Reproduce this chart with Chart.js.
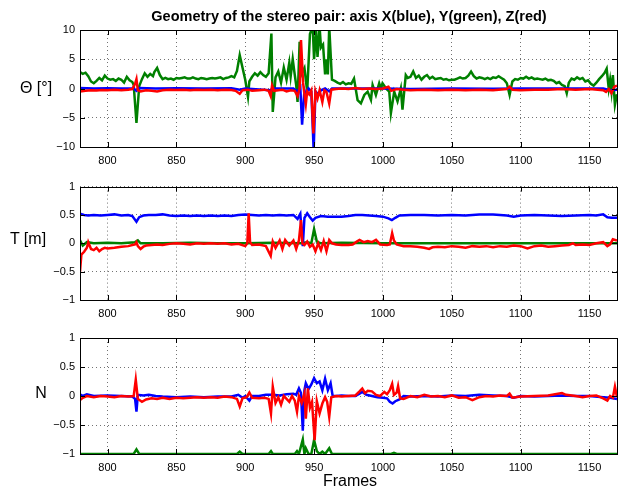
<!DOCTYPE html>
<html>
<head>
<meta charset="utf-8">
<script src="https://cdn.jsdelivr.net/npm/chart.js@4"></script>
<style>
    body { margin: 0; background: #fff; width: 623px; height: 489px; overflow: hidden; position: relative; font-family: 'Liberation Sans', Arial, sans-serif; }
    canvas { position: absolute; left: 0; }
    .lbl { position: absolute; color: #000; white-space: nowrap; transform: translate(-50%, -50%); }
</style>
</head>
<body>
<canvas id="c1" width="623" height="175" style="top:0"></canvas>
<canvas id="c2" width="623" height="150" style="top:175px"></canvas>
<canvas id="c3" width="623" height="164" style="top:325px"></canvas>
<div class="lbl" style="left:349px;top:16px;font-size:14.5px;font-weight:bold">Geometry of the stereo pair: axis X(blue), Y(green), Z(red)</div>
<div class="lbl" style="left:36px;top:88px;font-size:16px">Θ [°]</div>
<div class="lbl" style="left:28px;top:239px;font-size:16px">T [m]</div>
<div class="lbl" style="left:41px;top:393px;font-size:16px">N</div>
<div class="lbl" style="left:350px;top:481px;font-size:16px">Frames</div>
<script>
// Tick values
const xTicks = [800, 850, 900, 950, 1000, 1050, 1100, 1150];
const thetaTicks = [-10, -5, 0, 5, 10];
const unitTicks = [-1, -0.5, 0, 0.5, 1];

// Rotation angles [deg] as [frame, value]
const thetaX = [[780,0.1],[790,0.0],[800,0.05],[810,0.0],[819,0.0],[821,-0.4],[823,0.1],[835,0.0],[850,0.05],[870,0.0],[890,0.05],
    [896,-0.2],[900,0.0],[918,-0.3],[920,0.0],[935,0.0],[938,-0.5],[940,0.2],[941.3,-6.2],[943,-0.3],[944,-1.0],[946,0.0],[948,-0.5],
    [949.7,-10.6],[951,-0.5],[953,-1.0],[955,-0.3],[958,0.0],[961,-0.5],[963,0.0],[980,0.0],[1000,0.0],[1020,-0.1],[1050,0.0],
    [1080,-0.05],[1100,0.0],[1130,0.0],[1160,0.0],[1165,-0.3],[1170,-0.2]];
const thetaY = [[780,2.8],[782,2.5],[784,2.7],[786,2.1],[788,1.2],[790,0.9],[792,1.3],[794,1.8],[796,1.4],[798,2.2],[800,1.7],[802,1.5],
    [804,1.6],[806,1.3],[808,1.7],[810,1.5],[812,1.0],[814,2.0],[816,1.4],[818,1.1],[819,0.6],[821,-5.9],[823,0.4],[825,1.6],[827,2.6],
    [829,2.0],[831,2.5],[833,2.1],[834,2.8],[836,3.5],[838,2.3],[840,1.6],[842,1.8],[844,1.6],[846,1.7],[848,1.5],[850,1.8],[852,1.7],
    [854,1.8],[856,1.9],[858,1.7],[860,1.7],[862,1.9],[864,1.7],[866,1.6],[868,1.8],[870,1.7],[872,1.6],[874,1.7],[876,1.8],[878,1.7],
    [880,1.8],[882,1.9],[884,1.6],[886,1.8],[888,1.9],[890,2.1],[892,1.9],[894,3.0],[896,5.7],[898,3.6],[900,1.5],[902,-1.4],[903,1.2],
    [905,2.0],[907,2.6],[909,2.2],[911,2.8],[913,2.3],[915,2.0],[917,2.6],[919,9.4],[920,-4.0],[922,1.9],[924,2.9],[926,1.0],[928,3.6],
    [930,1.5],[932,4.4],[933,2.1],[934.5,5.0],[936,2.3],[937,0.6],[938,-2.3],[939.5,8.0],[941,2.5],[943,3.5],[945,-0.5],[947,9.3],
    [949,10.6],[950,5.0],[951.5,9.8],[952.5,5.4],[954,10.6],[955,7.0],[956.5,7.5],[958,2.4],[959,5.0],[960,2.4],[961,10.6],[963,1.5],
    [965,1.3],[967,1.0],[969,0.8],[971,1.1],[973,0.7],[975,0.9],[977,0.8],[979,1.7],[981.6,-2.0],[984,-2.55],[986.5,-1.1],[988.9,-0.54],
    [991.3,-1.96],[992.5,0.6],[994.9,-1.1],[997.3,0.88],[998.5,0.03],[999.7,0.88],[1002.2,0.03],[1004.6,-0.54],[1005.8,-4.2],
    [1008.2,-0.54],[1010.6,-2.2],[1013,0.03],[1014.2,-3.6],[1016.6,2.3],[1018,1.8],[1020,2.0],[1022,2.9],[1024,1.8],[1026,2.2],[1028,1.5],
    [1030,2.0],[1032,2.3],[1034,1.7],[1036,2.0],[1038,1.6],[1040,1.7],[1042,1.8],[1044,1.5],[1046,1.6],[1048,1.4],[1050,1.5],[1052,1.5],
    [1054,1.7],[1056,1.9],[1058,1.7],[1060,1.8],[1062,2.2],[1064,2.9],[1066,2.1],[1068,1.7],[1070,1.9],[1072,1.8],[1074,1.6],[1076,1.8],
    [1078,1.6],[1080,1.9],[1082,1.8],[1084,2.1],[1086,1.8],[1088,1.5],[1090,0.9],[1092,-1.1],[1094,1.2],[1096,1.6],[1098,1.5],[1100,1.8],
    [1102,1.7],[1104,2.0],[1106,1.7],[1108,1.9],[1110,1.6],[1112,1.7],[1114,1.6],[1116,1.5],[1118,1.7],[1120,1.4],[1122,1.5],[1124,1.3],
    [1126,0.9],[1128,1.1],[1130,0.6],[1132,0.4],[1133.5,-0.8],[1135,1.0],[1137,1.7],[1139,1.5],[1141,1.9],[1143,1.6],[1145,1.8],
    [1147,1.2],[1149,1.4],[1151,0.8],[1153,0.5],[1155,1.0],[1157,1.6],[1159,2.1],[1161,2.7],[1162.5,3.4],[1164,0.0],[1165,1.5],
    [1166,-0.5],[1167,2.3],[1168.5,-2.8],[1170,-1.0]];
const thetaZ = [[780,-0.5],[784,-0.4],[788,-0.3],[792,-0.35],[796,-0.25],[800,-0.3],[805,-0.2],[810,-0.3],[815,-0.2],[818,-0.1],
    [820,0.8],[821,1.6],[822,-0.3],[824,-0.5],[828,-0.3],[832,-0.4],[836,-0.5],[840,-0.3],[845,-0.2],[850,-0.25],[855,-0.2],[860,-0.3],
    [865,-0.2],[870,-0.25],[875,-0.2],[880,-0.3],[885,-0.2],[890,-0.25],[893,-0.4],[896,-0.9],[898,-0.3],[902,-0.2],[905,-0.4],
    [910,-0.3],[914,-0.2],[917,-0.4],[918.5,-1.3],[919.5,0.5],[921,-0.4],[924,-0.3],[927,-0.2],[930,-0.5],[933,-0.3],[936,-0.4],
    [938,-1.3],[939.5,0.0],[940.5,8.3],[942,1.0],[943,-1.0],[944,-2.7],[945,-0.5],[946.5,-1.0],[948,-0.3],[949.5,-7.7],[951,-0.5],
    [952.5,-1.7],[954,-0.3],[956,-2.3],[957.5,-0.3],[959,-0.6],[961,-2.6],[962.5,-0.2],[966,-0.1],[970,0.0],[975,-0.1],[980,0.1],
    [985,-0.1],[990,0.0],[995,-0.1],[1000,0.0],[1004,0.3],[1006,-0.4],[1010,-0.1],[1015,-0.2],[1020,-0.3],[1030,-0.2],[1040,-0.3],
    [1050,-0.2],[1060,-0.3],[1070,-0.2],[1080,-0.3],[1090,-0.1],[1092,0.3],[1094,-0.2],[1100,-0.3],[1110,-0.2],[1120,-0.2],[1130,-0.1],
    [1140,-0.2],[1150,-0.1],[1160,-0.3],[1162,-0.6],[1164,-0.1],[1166,-0.8],[1168,0.3],[1170,0.5]];

// Translation [m]
const transX = [[780,0.52],[783,0.5],[786,0.49],[790,0.5],[795,0.49],[800,0.5],[805,0.51],[810,0.49],[815,0.5],[818,0.48],[821,0.38],
    [823,0.46],[826,0.49],[830,0.5],[835,0.5],[840,0.51],[845,0.49],[850,0.48],[855,0.49],[860,0.48],[865,0.49],[870,0.48],[875,0.49],
    [880,0.48],[885,0.49],[890,0.48],[895,0.5],[900,0.51],[905,0.5],[910,0.49],[915,0.5],[920,0.49],[925,0.5],[930,0.49],[935,0.5],
    [938,0.43],[940,0.52],[941.8,-0.05],[943,0.45],[945,0.53],[947,0.46],[949,0.4],[951,0.45],[955,0.48],[960,0.47],[965,0.47],
    [970,0.47],[975,0.48],[980,0.5],[985,0.5],[990,0.49],[995,0.48],[1000,0.47],[1004,0.44],[1006.5,0.41],[1009,0.45],[1012,0.49],
    [1020,0.5],[1030,0.5],[1040,0.49],[1050,0.5],[1060,0.49],[1070,0.51],[1080,0.51],[1090,0.49],[1095,0.47],[1100,0.49],[1110,0.5],
    [1120,0.49],[1130,0.48],[1140,0.49],[1150,0.5],[1155,0.49],[1160,0.51],[1163,0.46],[1166,0.45],[1170,0.45]];
const transY = [[780,0.05],[782,-0.04],[785,0.02],[790,0.0],[800,0.01],[810,0.0],[820,0.02],[822,0.05],[824,0.0],[840,0.0],[860,0.01],
    [880,0.0],[900,0.0],[920,0.01],[940,0.0],[945,0.02],[948,0.0],[950,0.25],[952,0.03],[955,0.0],[970,0.01],[1000,0.0],[1050,0.0],
    [1100,0.0],[1150,0.0],[1170,0.0]];
const transZ = [[780,-0.5],[781,-0.2],[783,-0.15],[785,-0.08],[786,0.02],[788,-0.1],[790,-0.12],[792,-0.08],[794,-0.14],[796,-0.1],
    [798,-0.08],[800,-0.09],[805,-0.08],[810,-0.06],[815,-0.05],[818,-0.03],[820,-0.02],[821,0.02],[822,-0.05],[824,-0.1],[826,-0.06],
    [828,-0.04],[832,-0.03],[836,-0.02],[840,-0.03],[845,-0.01],[850,0.0],[855,-0.01],[860,-0.02],[865,0.0],[870,-0.01],[875,0.0],
    [880,-0.01],[885,0.0],[890,-0.02],[895,-0.01],[900,-0.05],[901.5,0.0],[902.5,0.53],[903.5,0.02],[905,-0.03],[910,-0.02],[915,-0.05],
    [918.5,-0.22],[920,0.03],[922,-0.08],[925,0.05],[927,-0.1],[929,0.06],[932,-0.04],[935,0.05],[937,-0.1],[939,0.05],[940.5,0.41],
    [941.5,0.0],[943,-0.03],[945,0.03],[947,-0.06],[949,-0.02],[951,-0.14],[953,0.0],[955,-0.12],[957,0.04],[959,-0.14],[961,0.06],
    [963,0.0],[966,-0.02],[970,-0.03],[975,-0.03],[978,-0.02],[981,0.03],[983,0.06],[986,0.02],[989,0.04],[992,0.02],[995,0.06],
    [998,-0.02],[1003,-0.03],[1005,-0.02],[1006.7,0.18],[1008,0.05],[1010,-0.02],[1015,-0.05],[1020,-0.05],[1025,-0.06],[1030,-0.08],
    [1033.5,-0.1],[1036,-0.07],[1040,-0.06],[1045,-0.07],[1050,-0.05],[1055,-0.06],[1060,-0.08],[1065,-0.05],[1070,-0.06],[1075,-0.05],
    [1080,-0.07],[1085,-0.05],[1090,-0.06],[1095,-0.04],[1100,-0.05],[1105,-0.09],[1110,-0.05],[1115,-0.04],[1120,-0.06],[1125,-0.05],
    [1130,-0.04],[1135,-0.03],[1138,0.0],[1140,-0.03],[1145,-0.02],[1150,-0.03],[1155,0.0],[1160,0.02],[1163,-0.05],[1165,-0.02],
    [1167,0.07],[1170,0.05]];

// Normal vector components
const normX = [[780,0.03],[782,0.0],[785,0.03],[790,0.0],[800,0.01],[810,0.0],[818,-0.01],[820,-0.05],[821,-0.27],[822,0.02],[826,0.01],
    [830,0.02],[835,0.0],[840,-0.01],[850,-0.02],[860,-0.01],[870,-0.02],[880,-0.01],[890,-0.01],[895,0.02],[898,-0.03],[900,0.0],
    [903,-0.08],[905,0.0],[910,0.0],[915,0.02],[920,0.02],[925,0.01],[930,0.03],[935,0.04],[937,0.02],[939,0.13],[940.5,0.05],
    [941.8,-0.6],[943,0.1],[944,0.22],[946,0.12],[948,0.2],[950,0.31],[952,0.22],[954,0.25],[956,0.1],[958,0.3],[960,0.1],[962,0.22],
    [963.5,0.0],[966,0.0],[970,0.01],[975,0.0],[980,0.0],[983,0.04],[985,0.07],[988,0.02],[992,0.0],[996,-0.02],[1000,-0.03],
    [1003,-0.04],[1005,-0.1],[1007,-0.13],[1009,-0.09],[1012,-0.06],[1015,0.0],[1020,-0.01],[1030,0.0],[1040,-0.01],[1050,0.01],
    [1060,0.0],[1070,0.02],[1080,0.01],[1090,0.0],[1095,-0.03],[1100,0.0],[1110,-0.01],[1120,0.0],[1130,0.01],[1140,0.0],[1150,0.0],
    [1160,-0.02],[1165,-0.03],[1170,-0.05]];
const normY = [[780,-1],[819,-1],[821,-0.92],[823,-1],[894,-1],[896,-0.96],[898,-1],[917,-1],[918.7,-0.95],[920,-1],[936,-1],
    [937.6,-0.95],[939,-1],[941.8,-0.75],[943,-1],[944,-0.9],[946,-1],[948,-1],[950,-0.76],[952,-0.95],[954,-1],[956,-0.96],[958,-1],
    [961,-0.9],[963,-1],[1006,-1],[1008,-0.98],[1010,-1],[1170,-1]];
const normZ = [[780,-0.07],[782,-0.03],[785,0.0],[790,-0.02],[795,0.0],[800,-0.01],[805,-0.02],[810,0.0],[815,-0.01],[819,0.0],
    [820.5,0.28],[822,-0.05],[825,-0.1],[828,-0.06],[832,-0.04],[836,-0.05],[840,-0.03],[845,-0.05],[850,-0.03],[855,-0.04],[860,-0.03],
    [865,-0.02],[870,-0.03],[875,-0.02],[880,-0.03],[885,-0.01],[890,-0.02],[894,-0.05],[896,-0.18],[898,-0.04],[901,-0.02],[903,0.06],
    [905,-0.03],[910,-0.04],[914,-0.03],[917,-0.05],[918.7,-0.3],[920,0.16],[922,-0.12],[924,-0.02],[926,-0.15],[928,0.0],[930,-0.05],
    [932,-0.1],[934,0.0],[936,-0.08],[937.6,-0.27],[939,0.0],[941,-0.12],[943,0.05],[944,-0.39],[945.5,0.13],[947,-0.2],[948.5,-0.1],
    [950.4,-0.76],[952,-0.09],[954,-0.3],[956,-0.13],[958,-0.02],[959.5,-0.1],[961,-0.36],[962.5,-0.02],[966,0.0],[970,-0.01],[975,0.0],
    [980,0.01],[983,0.08],[985,0.13],[987,0.05],[989,0.09],[992,0.08],[995,0.02],[998,0.0],[1001,0.07],[1003,0.03],[1005,0.1],
    [1006.7,0.21],[1008,0.02],[1010,0.06],[1011,0.17],[1012.5,-0.04],[1015,-0.05],[1020,0.0],[1025,-0.02],[1030,0.02],[1035,-0.01],
    [1040,0.0],[1045,-0.02],[1050,0.01],[1055,-0.03],[1060,-0.02],[1065,-0.07],[1070,-0.02],[1075,0.0],[1080,-0.01],[1085,0.01],
    [1090,0.0],[1092,0.04],[1094,-0.03],[1100,-0.01],[1110,0.0],[1120,0.01],[1125,0.03],[1130,0.05],[1133,0.02],[1140,0.0],[1145,-0.02],
    [1150,0.0],[1155,0.01],[1160,-0.04],[1163,-0.08],[1165,0.0],[1167,-0.03],[1168.5,0.16],[1170,-0.02]];

const FONT = "'Liberation Sans', Arial, sans-serif";
const toXY = arr => arr.map(p => ({ x: p[0], y: p[1] }));
const fmt = v => String(v).replace('-', '\u2212');

// Box around plot + inward tick marks (matlab style)
const boxPlugin = {
    id: 'box',
    afterDraw(chart) {
        const { ctx, chartArea: a, scales } = chart;
        ctx.save();
        ctx.strokeStyle = '#000';
        ctx.lineWidth = 1;
        ctx.beginPath();
        xTicks.forEach(v => {
            const px = Math.round(scales.x.getPixelForValue(v)) + 0.5;
            ctx.moveTo(px, a.bottom); ctx.lineTo(px, a.bottom - 5);
            ctx.moveTo(px, a.top); ctx.lineTo(px, a.top + 5);
        });
        scales.y.ticks.forEach(t => {
            const py = Math.round(scales.y.getPixelForValue(t.value)) + 0.5;
            ctx.moveTo(a.left, py); ctx.lineTo(a.left + 5, py);
            ctx.moveTo(a.right, py); ctx.lineTo(a.right - 5, py);
        });
        ctx.stroke();
        ctx.strokeRect(Math.round(a.left) + 0.5, Math.round(a.top) + 0.5, Math.round(a.right - a.left), Math.round(a.bottom - a.top));
        ctx.restore();
    }
};

function makePanel(id, series, yTicks, pad, xHeight) {
    const colors = ['#0000ff', '#008000', '#ff0000'];
    const order = [1, 2, 0];
    new Chart(document.getElementById(id), {
        type: 'line',
        data: {
            datasets: series.map((s, i) => ({
                data: toXY(s),
                borderColor: colors[i],
                borderWidth: 2.5,
                pointRadius: 0,
                tension: 0,
                order: order[i]
            }))
        },
        options: {
            responsive: false,
            animation: false,
            devicePixelRatio: 1,
            layout: { padding: { top: pad, left: 0, right: 6, bottom: 0 } },
            plugins: { legend: { display: false }, tooltip: { enabled: false } },
            scales: {
                x: {
                    type: 'linear',
                    min: 780,
                    max: 1170,
                    afterBuildTicks: s => { s.ticks = xTicks.map(v => ({ value: v })); },
                    afterFit: s => { s.height = xHeight; },
                    grid: { color: 'rgba(0,0,0,0.55)', lineWidth: 1, drawTicks: false },
                    border: { display: false, dash: [1, 3] },
                    ticks: { padding: 7, color: '#000', font: { family: FONT, size: 11 }, maxRotation: 0, callback: v => fmt(v) }
                },
                y: {
                    min: yTicks[0],
                    max: yTicks[yTicks.length - 1],
                    afterBuildTicks: s => { s.ticks = yTicks.map(v => ({ value: v })); },
                    afterFit: s => { s.width = 80; },
                    grid: { color: 'rgba(0,0,0,0.55)', lineWidth: 1, drawTicks: false },
                    border: { display: false, dash: [1, 3] },
                    ticks: { padding: 5, color: '#000', font: { family: FONT, size: 11 }, callback: v => fmt(v) }
                }
            }
        },
        plugins: [boxPlugin]
    });
}

makePanel('c1', [thetaX, thetaY, thetaZ], thetaTicks, 30, 28);
makePanel('c2', [transX, transY, transZ], unitTicks, 8, 25);
makePanel('c3', [normX, normY, normZ], unitTicks, 13, 35);
</script>
</body>
</html>
